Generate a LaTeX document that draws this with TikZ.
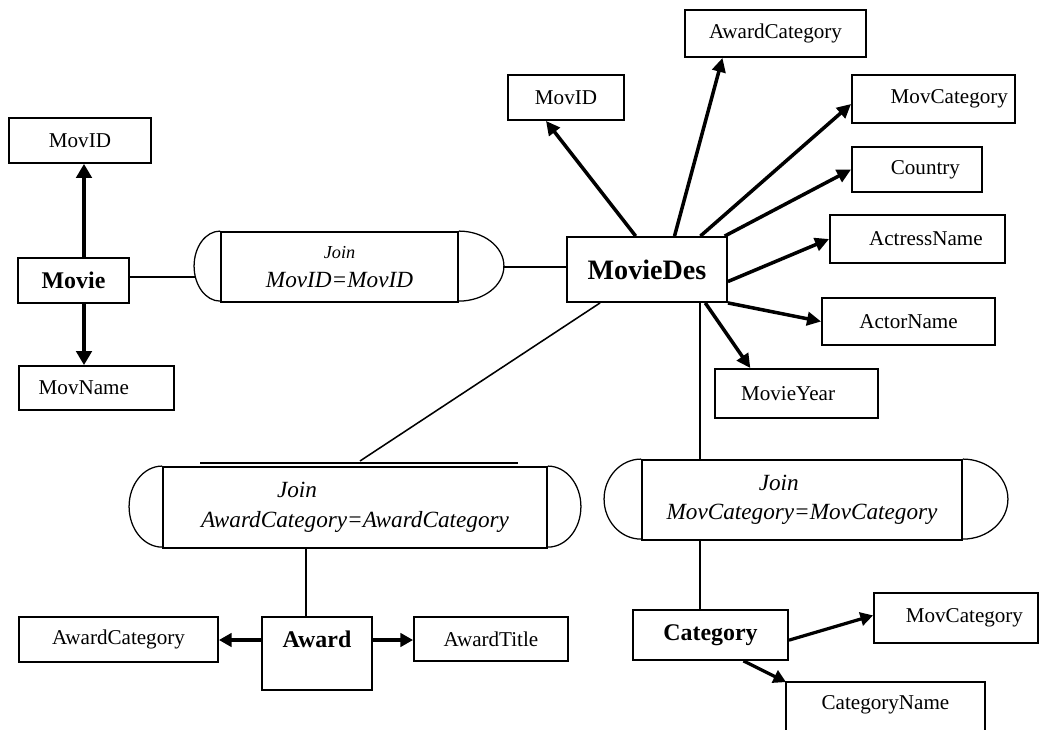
\documentclass[tikz,border=0pt]{standalone}
\usepackage{fontspec}
\setmainfont{Liberation Serif}
\usetikzlibrary{arrows.meta,calc}
\begin{document}
\begin{tikzpicture}[x=0.025cm,y=-0.025cm,
  span/.style n args={4}{at={({(#1+#3)/2},{(#2+#4)/2})},
    minimum width={(#3-#1)*0.025cm},minimum height={(#4-#2)*0.025cm}},
  attr/.style={draw,line width=1.3pt,rectangle,inner sep=0pt,font=\fontsize{15}{17}\selectfont},
  entity/.style={attr,font=\fontsize{17}{19}\selectfont\bfseries},
  joinbox/.style={draw,line width=1.3pt,rectangle,inner sep=0pt,align=center,font=\fontsize{16.5}{21}\selectfont\itshape},
  endcap/.style={line width=0.9pt},
  link/.style={line width=1.1pt},
  propL/.style={line width=3.2pt,-{Triangle[length=10pt,width=11pt]}},
  prop/.style={line width=2.5pt,-{Triangle[length=10pt,width=9.5pt]}},
  propB/.style={line width=2.3pt,-{Triangle[length=9pt,width=9.5pt]}},
]
\useasboundingbox (0,0) rectangle (1041,730);

% ---- Movie table ----
\node[attr,span={9}{118}{151}{163}] (movid1) {MovID};
\node[entity,span={18}{258}{129}{303}] (movie) {Movie};
\node[attr,span={19}{366}{174}{410}] (movname) {\hspace*{-1.2em}MovName};
\coordinate (ax) at (84,0);
\draw[propL] (movie.north -| ax) -- (movid1.south -| ax);
\draw[propL] (movie.south -| ax) -- (movname.north -| ax);

% ---- Join on MovID ----
\node[joinbox,span={221}{232}{458}{302}] (j1) {{\fontsize{13}{16}\selectfont Join}\\MovID=MovID};
\draw[endcap] (j1.north west) arc[start angle=90,end angle=270,x radius=0.65cm,y radius=0.875cm];
\draw[endcap] (j1.north east) arc[start angle=90,end angle=-90,x radius=1.125cm,y radius=0.875cm];
\coordinate (j1L) at (196,277);
\coordinate (j1R) at (503,267);

% ---- MovieDes table ----
\node[entity,font=\fontsize{20}{24}\selectfont\bfseries,span={567}{237}{727}{302}] (md) {MovieDes};
\node[attr,span={685}{10}{866}{57}] (acat) {AwardCategory};
\node[attr,span={508}{75}{624}{120}] (movid2) {MovID};
\node[attr,span={852}{75}{1015}{123}] (mcat) {\hspace*{1.5em}MovCategory};
\node[attr,span={852}{147}{982}{192}] (country) {\hspace*{0.8em}Country};
\node[attr,span={830}{215}{1005}{263}] (actress) {\hspace*{0.8em}ActressName};
\node[attr,span={822}{298}{995}{345}] (actor) {ActorName};
\node[attr,span={715}{369}{878}{418}] (year) {\hspace*{-0.8em}MovieYear};

\draw[link] (movie.east |- j1L) -- (j1L);
\draw[link] (j1R) -- (j1R -| md.west);

\draw[prop] ($(md.north west)!0.43!(md.north east)$) -- ($(movid2.south west)!0.33!(movid2.south east)$);
\draw[prop] ($(md.north west)!0.67!(md.north east)$) -- ($(acat.south west)!0.21!(acat.south east)$);
\draw[prop] ($(md.north west)!0.83!(md.north east)$) -- ($(mcat.south west)!0.4!(mcat.north west)$);
\draw[prop] ($(md.north west)!0.98!(md.north east)$) -- (country.west);
\draw[prop] ($(md.north east)!0.68!(md.south east)$) -- (actress.west);
\draw[prop] (md.south east) -- (actor.west);
\draw[prop] ($(md.south west)!0.86!(md.south east)$) -- ($(year.north west)!0.22!(year.north east)$);

% ---- Join on AwardCategory ----
\node[joinbox,span={163}{467}{547}{548}] (j2) {Join\hspace*{5em}\\AwardCategory=AwardCategory};
\draw[endcap] (j2.north west) arc[start angle=90,end angle=270,x radius=0.825cm,y radius=1.0125cm];
\draw[endcap] (j2.north east) arc[start angle=90,end angle=-90,x radius=0.825cm,y radius=1.0125cm];
\draw[line width=0.8pt] (200,463) -- (518,463);
\coordinate (j2in) at (360,461);
\draw[link] ($(md.south west)!0.21!(md.south east)$) -- (j2in);

% ---- Join on MovCategory ----
\node[joinbox,span={642}{460}{962}{540}] (j3) {Join\hspace*{2em}\\MovCategory=MovCategory};
\draw[endcap] (j3.north west) arc[start angle=90,end angle=270,x radius=0.925cm,y radius=1cm];
\draw[endcap] (j3.north east) arc[start angle=90,end angle=-90,x radius=1.125cm,y radius=1cm];
\coordinate (j3x) at (700,0);
\draw[link] (md.south -| j3x) -- (j3.north -| j3x);

% ---- Award table ----
\node[entity,span={262}{617}{372}{690}] (award) {\raisebox{4pt}[0pt][0pt]{Award}};
\node[attr,span={19}{617}{218}{662}] (awcat) {AwardCategory};
\node[attr,span={414}{617}{568}{661}] (awtitle) {AwardTitle};
\coordinate (j2x) at (306,0);
\draw[link] (j2.south -| j2x) -- (award.north -| j2x);
\coordinate (awy) at (0,640);
\draw[propB] (award.west |- awy) -- (awcat.east |- awy);
\draw[propB] (award.east |- awy) -- (awtitle.west |- awy);

% ---- Category table ----
\node[entity,span={633}{610}{788}{660}] (cat) {Category};
\node[attr,span={874}{593}{1038}{643}] (mcat2) {\hspace*{0.8em}MovCategory};
\node[attr,draw=none,span={787}{683}{984}{727}] (cname) {CategoryName};
\draw[line width=1.3pt] ([yshift=-20pt]cname.south west) -- (cname.north west) -- (cname.north east) -- ([yshift=-20pt]cname.south east);
\draw[link] (j3.south -| j3x) -- (cat.north -| j3x);
\draw[propB] ($(cat.north east)!0.6!(cat.south east)$) -- ($(mcat2.north west)!0.45!(mcat2.south west)$);
\draw[propB] ($(cat.south west)!0.71!(cat.south east)$) -- (cname.north west);
\end{tikzpicture}
\end{document}
